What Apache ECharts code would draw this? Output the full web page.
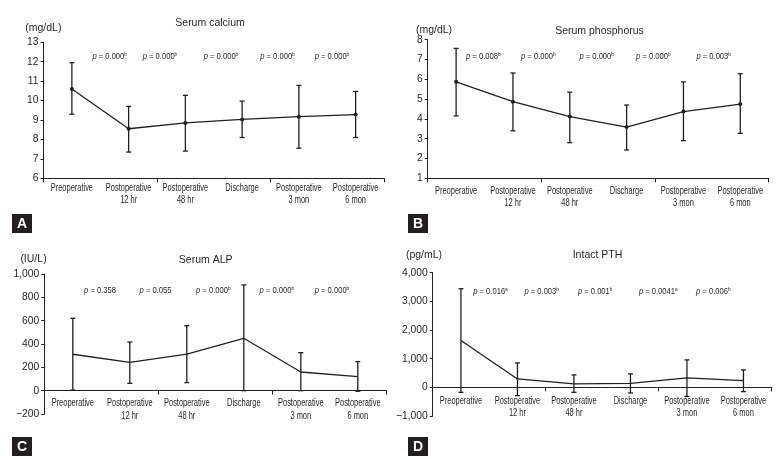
<!DOCTYPE html>
<html><head><meta charset="utf-8">
<script src="https://cdn.jsdelivr.net/npm/echarts@6/dist/echarts.min.js"></script>
<style>html,body{margin:0;padding:0;background:#fff}#c{width:781px;height:460px}</style>
</head><body><div id="c"></div>
<script>
// ---------- data ----------
const categories = ['Preoperative','Postoperative\n12 hr','Postoperative\n48 hr','Discharge','Postoperative\n3 mon','Postoperative\n6 mon'];

const calciumMean = [10.6, 8.55, 8.85, 9.03, 9.17, 9.28];
const calciumHigh = [11.95, 9.7, 10.27, 9.97, 10.78, 10.47];
const calciumLow  = [9.3, 7.35, 7.4, 8.1, 7.55, 8.1];

const phosMean = [5.87, 4.87, 4.12, 3.59, 4.37, 4.75];
const phosHigh = [7.56, 6.32, 5.35, 4.7, 5.87, 6.28];
const phosLow  = [4.15, 3.4, 2.8, 2.43, 2.9, 3.27];

const alpMean = [312, 243, 314, 449, 160, 120];
const alpHigh = [620, 417, 557, 906, 326, 249];
const alpLow  = [5, 63, 69, 0, 0, -5];

const pthMean = [1633, 293, 119, 140, 329, 234];
const pthHigh = [3440, 853, 434, 469, 958, 608];
const pthLow  = [-175, -290, -175, -196, -315, -150];

const pValsA = ['0.000','0.000','0.000','0.000','0.000'];
const pSupA  = ['b','b','b','b','b'];
const pValsB = ['0.008','0.000','0.000','0.000','0.003'];
const pSupB  = ['b','b','b','b','b'];
const pValsC = ['0.358','0.055','0.000','0.000','0.000'];
const pSupC  = ['','','b','b','b'];
const pValsD = ['0.016','0.003','0.001','0.0041','0.006'];
const pSupD  = ['a','b','b','a','b'];

const titles = ['Serum calcium','Serum phosphorus','Serum ALP','Intact PTH'];
const units  = ['(mg/dL)','(mg/dL)','(IU/L)','(pg/mL)'];
const panelLetters = ['A','B','C','D'];

// ---------- layout / style ----------
const INK = '#231f20';
const REG = "'Liberation Sans', Arial, sans-serif";
const LABEL_SCALE_X = 0.71;
const PV_SCALE_X = 0.8;

const panels = [
  {mean: calciumMean, hi: calciumHigh, lo: calciumLow, grid:{left:43.5, top:42.3, width:340.5, height:136}, min:6, max:13, interval:1, base:6, labelGap:3.3, symbol:true,
   titlePos:[210,22.7], unitPos:[43.3,28.3], boxPos:[12,214], pv:pValsA, ps:pSupA, pvY:56.7, pvX:[109.7,160,221,277.5,332]},
  {mean: phosMean, hi: phosHigh, lo: phosLow, grid:{left:427.7, top:39.7, width:341, height:138.6}, min:1, max:8, interval:1, base:1, labelGap:6.3, symbol:true,
   titlePos:[599.5,30.7], unitPos:[434,30], boxPos:[408,214], pv:pValsB, ps:pSupB, pvY:56.7, pvX:[483.3,538.3,596.7,653.3,713.7]},
  {mean: alpMean, hi: alpHigh, lo: alpLow, grid:{left:44.3, top:274, width:342, height:140}, min:-200, max:1000, interval:200, base:0, labelGap:6.5, symbol:false,
   titlePos:[205.7,260], unitPos:[33.5,259.3], boxPos:[12,437], pv:pValsC, ps:pSupC, pvY:290, pvX:[100,155.5,213.3,276.8,332]},
  {mean: pthMean, hi: pthHigh, lo: pthLow, grid:{left:432.7, top:272.7, width:339, height:143.3}, min:-1000, max:4000, interval:1000, base:0, labelGap:7.8, symbol:false,
   titlePos:[597.5,255], unitPos:[424,255], boxPos:[408,437], pv:pValsD, ps:pSupD, pvY:291.7, pvX:[490.5,541.7,595.2,658.3,713.3]}
];

function fmtNum(v){
  const s = Math.abs(v).toString().replace(/\B(?=(\d{3})+(?!\d))/g, ',');
  return (v < 0 ? '\u2212' : '') + s;
}

function renderErr(params, api){
  const x = api.value(0), hi = api.value(1), lo = api.value(2);
  const p1 = api.coord([x, hi]), p2 = api.coord([x, lo]);
  const w = 2.5;
  const style = {stroke: INK, lineWidth: 1.3, fill: null};
  return {type:'group', children:[
    {type:'line', shape:{x1:p1[0], y1:p1[1], x2:p2[0], y2:p2[1]}, style: style},
    {type:'line', shape:{x1:p1[0]-w, y1:p1[1], x2:p1[0]+w, y2:p1[1]}, style: style},
    {type:'line', shape:{x1:p2[0]-w, y1:p2[1], x2:p2[0]+w, y2:p2[1]}, style: style}
  ]};
}

function makeLabelRenderer(gap){
  return function(params, api){
    const k = api.value(0), b = api.value(1);
    const pt = api.coord([k, b]);
    return {type:'text', x: pt[0], y: pt[1] + gap, scaleX: LABEL_SCALE_X, scaleY: 1,
      style:{text: categories[k], font: '10.5px ' + REG, fill: INK, lineHeight: 12.3,
        align:'center', verticalAlign:'top', textAlign:'center', textVerticalAlign:'top'}};
  };
}

const grids = [], xAxes = [], yAxes = [], series = [], graphics = [];
panels.forEach((p, i) => {
  grids.push(Object.assign({containLabel:false}, p.grid));
  xAxes.push({
    gridIndex:i, type:'category', data:categories, boundaryGap:true,
    axisLine:{show:true, onZero:true, lineStyle:{color:INK, width:1}},
    axisTick:{show:true, length:4, lineStyle:{color:INK}},
    axisLabel:{show:false}
  });
  yAxes.push({
    gridIndex:i, type:'value', min:p.min, max:p.max, interval:p.interval,
    axisLine:{show:true, lineStyle:{color:INK, width:1}},
    axisTick:{show:true, length:3, lineStyle:{color:INK}},
    splitLine:{show:false},
    axisLabel:{color:INK, fontFamily:REG, fontSize:10.3, margin:5, formatter:fmtNum}
  });
  series.push({
    type:'line', xAxisIndex:i, yAxisIndex:i, data:p.mean,
    symbol: p.symbol ? 'circle' : 'none', symbolSize:4, showSymbol:p.symbol,
    itemStyle:{color:INK}, lineStyle:{color:INK, width:1.3}, silent:true, z:3
  });
  series.push({
    type:'custom', xAxisIndex:i, yAxisIndex:i, renderItem:renderErr, clip:false,
    encode:{x:0, y:[1,2]}, silent:true, z:2,
    data: categories.map((c, k) => [k, p.hi[k], p.lo[k]])
  });
  // category labels (condensed) placed through the category axis scale
  series.push({
    type:'custom', xAxisIndex:i, yAxisIndex:i, renderItem:makeLabelRenderer(p.labelGap), clip:false,
    encode:{x:0, y:1}, silent:true, z:4,
    data: categories.map((c, k) => [k, p.base])
  });
  graphics.push({type:'text', x:p.titlePos[0], y:p.titlePos[1],
    style:{text:titles[i], font:'10.5px ' + REG, fill:INK, align:'center', verticalAlign:'middle', textAlign:'center', textVerticalAlign:'middle'}});
  graphics.push({type:'text', x:p.unitPos[0], y:p.unitPos[1],
    style:{text:units[i], font:'10.5px ' + REG, fill:INK, align:'center', verticalAlign:'middle', textAlign:'center', textVerticalAlign:'middle'}});
  graphics.push({type:'rect', x:p.boxPos[0], y:p.boxPos[1], shape:{width:20, height:19}, style:{fill:INK}});
  graphics.push({type:'text', x:p.boxPos[0]+10, y:p.boxPos[1]+10,
    style:{text:panelLetters[i], font:'bold 14px ' + REG, fill:'#fff', align:'center', verticalAlign:'middle', textAlign:'center', textVerticalAlign:'middle'}});
  p.pv.forEach((v, k) => {
    const sup = p.ps[k] ? '{s|' + p.ps[k] + '}' : '';
    graphics.push({type:'text', x:p.pvX[k], y:p.pvY, scaleX: PV_SCALE_X, scaleY: 1,
      style:{text:'{i|p} = ' + v + sup, font:'9.5px ' + REG, fill:INK,
        align:'center', verticalAlign:'middle', textAlign:'center', textVerticalAlign:'middle',
        rich:{i:{fontStyle:'italic', fontFamily:REG, fontSize:9.5, fill:INK},
              s:{fontFamily:REG, fontSize:6, verticalAlign:'top', fill:INK}}}});
  });
});

const chart = echarts.init(document.getElementById('c'), null, {renderer:'canvas'});
chart.setOption({
  animation:false,
  backgroundColor:'#fff',
  grid:grids, xAxis:xAxes, yAxis:yAxes, series:series, graphic:graphics
});
</script>
</body></html>
